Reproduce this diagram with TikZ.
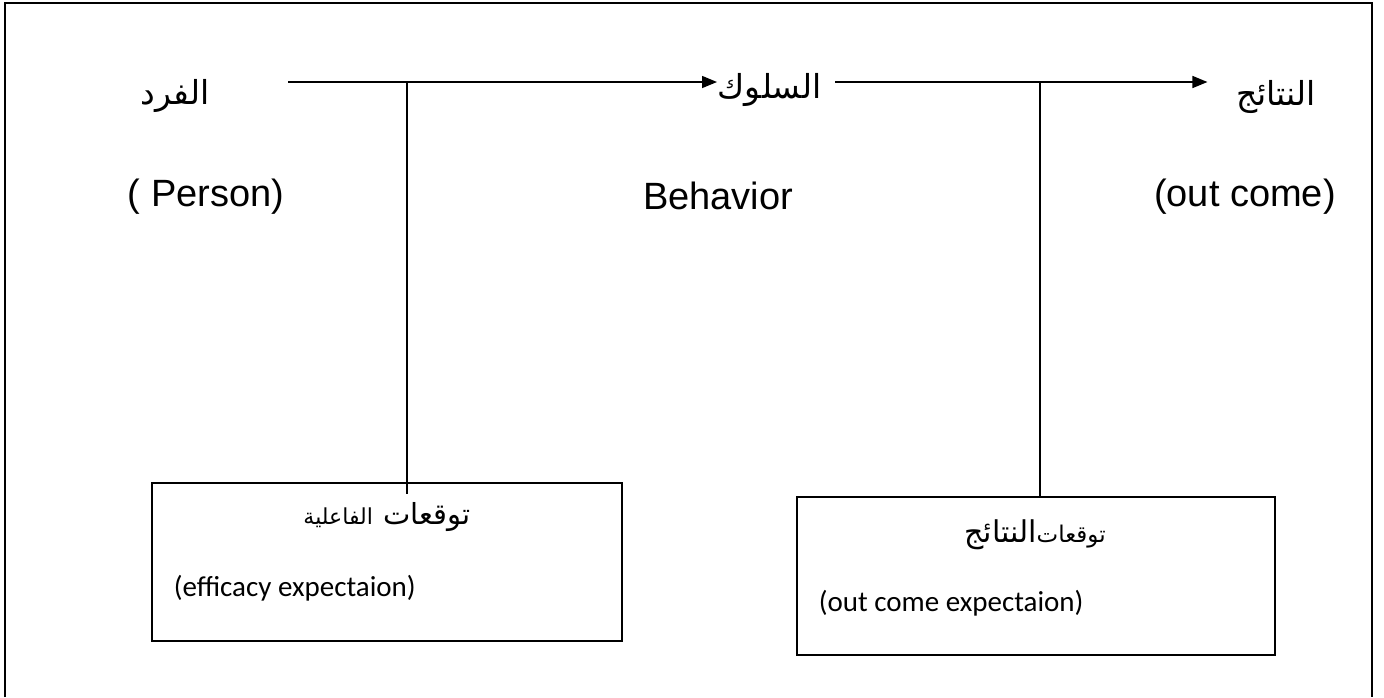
\documentclass[tikz,border=0pt]{standalone}
\usepackage{fontspec}
\setmainfont{Liberation Sans}
\newfontfamily\arabicfont[Script=Arabic]{DejaVu Sans}
\newfontfamily\boxfont{Carlito}
\TeXXeTstate=1
\usetikzlibrary{arrows.meta}

\begin{document}
\begin{tikzpicture}[x=0.5pt,y=-0.5pt,line width=0.75pt,
	ar/.style={font=\arabicfont\fontsize{16.5}{19}\selectfont,inner sep=0pt},
	en/.style={font=\fontsize{19}{22}\selectfont,inner sep=0pt},
	bt/.style={font=\boxfont\fontsize{14.5}{17}\selectfont,inner sep=0pt,anchor=west},
	bx/.style={draw,line width=1pt,minimum width=#1,minimum height=79pt,inner sep=0pt},
	flow/.style={-{Triangle[length=7.5pt,width=6pt]}}]
	\useasboundingbox (0,0) rectangle (1384,697);
	\draw[line width=1pt] (5,697) -- (5,3) -- (1372,3) -- (1372,697);
	\node (P)  at ( 175,  96)	[ar]			{\beginR الفرد\endR};
	\node (B)  at ( 717,  90)	[ar,anchor=west]	{\beginR السلوك\endR};
	\node (N)  at (1276,  97)	[ar]			{\beginR النتائج\endR};
	\node (Pe) at ( 206, 197)	[en]			{( Person)};
	\node (Be) at ( 718, 196)	[en]			{Behavior};
	\node (Ne) at (1245, 197)	[en]			{(out come)};
	\node (effbox) at ( 387, 562)	[bx=235pt]		{};
	\node (outbox) at (1036, 576)	[bx=239pt]		{};
	\node (efft) at ( 387, 517)	[ar]	{\beginR{\fontsize{14.5}{17}\selectfont توقعات} {\fontsize{11}{13}\selectfont الفاعلية}\endR};
	\node (outt) at (1035, 535)	[ar]	{\beginR{\fontsize{11.5}{14}\selectfont توقعات}{\fontsize{15}{18}\selectfont النتائج}\endR};
	\node (effe) at ( 173, 588)	[bt]	{(efficacy expectaion)};
	\node (oute) at ( 818, 603)	[bt]	{(out come expectaion)};
	\coordinate (a1) at ( 288, 82);
	\coordinate (a2) at ( 835, 82);
	\coordinate (j1) at ( 407, 82);
	\coordinate (j2) at (1040, 82);
	\draw[flow] (a1) -- (a1 -| B.west);
	\draw[flow] (a2) -- ([xshift=-14pt]a2 -| N.west);
	\draw (j1) -- ([yshift=-6pt]j1 |- effbox.north);
	\draw (j2) -- (j2 |- outbox.north);
\end{tikzpicture}
\end{document}
